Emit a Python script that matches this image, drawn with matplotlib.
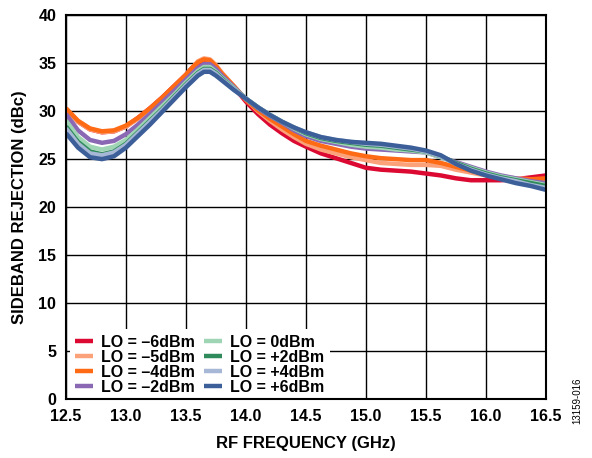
import os

os.environ.setdefault("MPLBACKEND", "Agg")
import matplotlib

matplotlib.use(os.environ["MPLBACKEND"])
import matplotlib.pyplot as plt
import numpy as np

# RF frequency (GHz), denser around the dip and the peak
freq = [12.5, 12.6, 12.7, 12.8, 12.9, 13.0, 13.1, 13.2, 13.3, 13.4, 13.5, 13.55,
        13.6, 13.65, 13.7, 13.75, 13.8, 13.9, 14.0, 14.1, 14.2, 14.3, 14.4, 14.5,
        14.625, 14.75, 14.875, 15.0, 15.125, 15.25, 15.375, 15.5, 15.625, 15.75,
        15.875, 16.0, 16.125, 16.25, 16.375, 16.5]

lo_m6 = [30.2, 28.9, 28.1, 27.8, 27.9, 28.4, 29.3, 30.3, 31.4, 32.6, 33.8, 34.5, 35.0,
         35.3, 35.2, 34.6, 33.8, 32.5, 31.0, 29.7, 28.6, 27.7, 26.9, 26.3, 25.6, 25.1,
         24.6, 24.1, 23.9, 23.8, 23.7, 23.5, 23.3, 23.0, 22.8, 22.8, 22.8, 22.9, 23.1, 23.3]
lo_m5 = [30.1, 28.9, 28.1, 27.8, 27.9, 28.4, 29.2, 30.2, 31.3, 32.5, 33.8, 34.5, 35.2,
         35.5, 35.4, 34.8, 34.0, 32.6, 31.2, 30.0, 29.0, 28.1, 27.3, 26.6, 26.0, 25.6,
         25.2, 24.9, 24.6, 24.5, 24.4, 24.4, 24.3, 23.9, 23.6, 23.3, 23.1, 23.0, 22.9, 22.8]
lo_m4 = [30.3, 29.0, 28.2, 27.9, 28.0, 28.5, 29.3, 30.3, 31.4, 32.6, 33.8, 34.5, 35.1,
         35.4, 35.3, 34.7, 33.9, 32.6, 31.2, 30.1, 29.2, 28.4, 27.6, 26.9, 26.4, 26.0,
         25.6, 25.3, 25.1, 25.0, 24.9, 24.9, 24.6, 24.2, 23.8, 23.4, 23.1, 22.9, 22.9, 23.0]
lo_m2 = [29.7, 28.0, 27.0, 26.7, 26.9, 27.6, 28.6, 29.7, 30.9, 32.1, 33.3, 33.9, 34.5,
         34.9, 34.9, 34.4, 33.7, 32.5, 31.3, 30.3, 29.5, 28.8, 28.0, 27.4, 26.9, 26.6,
         26.3, 26.1, 26.0, 25.9, 25.8, 25.7, 25.2, 24.7, 24.2, 23.7, 23.3, 23.0, 22.7, 22.5]
lo_0 = [29.0, 27.3, 26.3, 26.0, 26.3, 27.0, 28.1, 29.3, 30.5, 31.7, 33.0, 33.6, 34.2,
        34.6, 34.6, 34.1, 33.5, 32.4, 31.3, 30.4, 29.6, 28.9, 28.2, 27.6, 27.1, 26.8,
        26.5, 26.3, 26.2, 26.0, 25.9, 25.7, 25.2, 24.6, 24.1, 23.6, 23.2, 22.9, 22.6, 22.3]
lo_p2 = [28.4, 26.8, 25.8, 25.5, 25.8, 26.6, 27.8, 29.0, 30.2, 31.5, 32.8, 33.4, 34.0,
         34.4, 34.4, 34.0, 33.4, 32.3, 31.3, 30.4, 29.6, 28.9, 28.3, 27.7, 27.2, 26.9,
         26.7, 26.5, 26.4, 26.2, 26.0, 25.8, 25.3, 24.6, 24.0, 23.5, 23.1, 22.8, 22.5, 22.2]
lo_p4 = [28.2, 26.6, 25.6, 25.4, 25.7, 26.5, 27.7, 28.9, 30.1, 31.4, 32.7, 33.3, 33.9,
         34.3, 34.3, 33.9, 33.3, 32.3, 31.3, 30.4, 29.6, 28.9, 28.3, 27.8, 27.3, 27.0,
         26.8, 26.6, 26.5, 26.3, 26.1, 25.8, 25.3, 24.5, 23.9, 23.4, 23.0, 22.7, 22.3, 22.0]
lo_p6 = [27.7, 26.2, 25.2, 25.0, 25.3, 26.2, 27.4, 28.6, 29.9, 31.2, 32.5, 33.1, 33.7,
         34.1, 34.1, 33.7, 33.2, 32.2, 31.3, 30.4, 29.6, 28.9, 28.3, 27.8, 27.3, 27.0,
         26.8, 26.7, 26.6, 26.4, 26.2, 25.9, 25.4, 24.5, 23.8, 23.3, 22.9, 22.5, 22.2, 21.8]

labels = ["LO = \u20136dBm", "LO = \u20135dBm", "LO = \u20134dBm", "LO = \u20132dBm",
          "LO = 0dBm", "LO = +2dBm", "LO = +4dBm", "LO = +6dBm"]
series = [lo_m6, lo_m5, lo_m4, lo_m2, lo_0, lo_p2, lo_p4, lo_p6]
colors = ["#DC0A32", "#FCA27A", "#FF6A14", "#8A68B4",
          "#9FD4B4", "#2F8A5C", "#A6B8D6", "#3D5F99"]

plt.rcParams["font.family"] = ["Liberation Sans", "DejaVu Sans"]

fig = plt.figure(figsize=(5.92, 4.58), dpi=100)
ax = fig.add_axes([0.1115, 0.1288, 0.8105, 0.8380])

for y, lab, c in zip(series, labels, colors):
    ax.plot(freq, y, color=c, linewidth=3.2, label=lab,
            solid_joinstyle="round", solid_capstyle="butt")

ticks_x = np.arange(12.5, 16.51, 0.5)
ax.set_xlim(12.5, 16.5)
ax.set_ylim(0, 40)
ax.set_xticks(ticks_x)
ax.set_yticks(np.arange(0, 41, 5))
ax.set_xticklabels([f"{v:.1f}" for v in ticks_x])
ax.grid(True, color="black", linewidth=1.0)
ax.set_axisbelow(True)
for s in ax.spines.values():
    s.set_linewidth(1.5)
    s.set_zorder(6)  # keep frame above the legend box
ax.tick_params(direction="in", length=0, labelsize=11.5, pad=7)
for t in ax.get_xticklabels() + ax.get_yticklabels():
    t.set_fontweight("bold")

ax.set_xlabel("RF FREQUENCY (GHz)", fontsize=12, fontweight="bold", labelpad=9)
ax.set_ylabel("SIDEBAND REJECTION (dBc)", fontsize=12, fontweight="bold", labelpad=8)

leg = ax.legend(loc="lower left", bbox_to_anchor=(0.008, -0.004), ncol=2,
                frameon=True, facecolor="white", edgecolor="none",
                framealpha=1.0, fancybox=False,
                handlelength=1.1, handletextpad=0.5, columnspacing=0.6,
                labelspacing=0.0, borderaxespad=0.0, borderpad=0.35,
                prop={"weight": "bold", "size": 11.5})

fig.text(0.975, 0.075, "13159-016", rotation=90, fontsize=7,
         ha="center", va="bottom")

fig.savefig("out.png", dpi=100)
plt.close(fig)
